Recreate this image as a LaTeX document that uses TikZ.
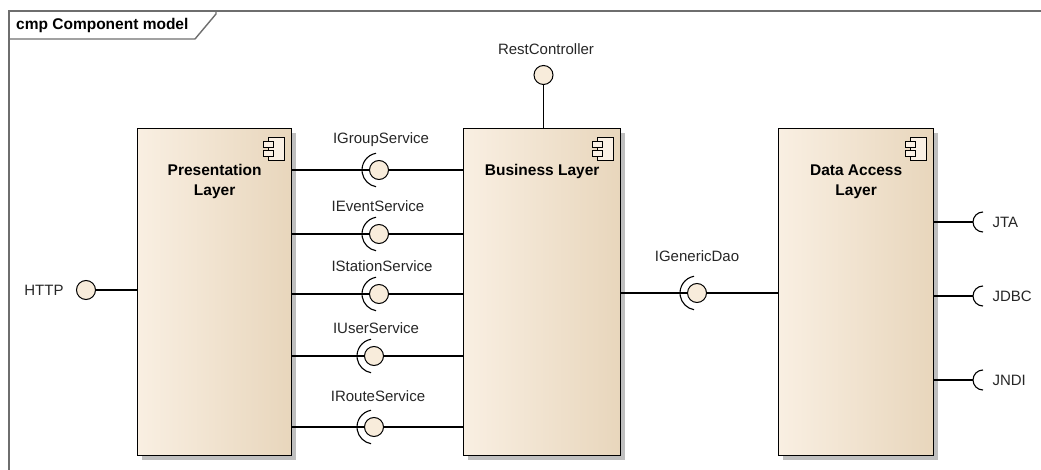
\documentclass[tikz,border=0pt]{standalone}
\usepackage{fontspec}
\setmainfont{Liberation Sans}
\usepackage{tikz}
\usetikzlibrary{positioning,shadows}
\definecolor{compL}{HTML}{F9EFE2}
\definecolor{compM}{HTML}{FAF0E4}
\definecolor{compR}{HTML}{E8D6BC}
\definecolor{ifacefill}{HTML}{F8ECDB}
\definecolor{framec}{HTML}{6E6E6E}
\tikzset{comp/.style={draw, line width=1.3pt, left color=compL, middle color=compM, right color=compR,
        drop shadow={shadow xshift=4.5pt, shadow yshift=-4.5pt, fill=black!25, opacity=1},
        minimum height=327pt, inner sep=0pt, anchor=north west},
    comptitle/.style={font=\bfseries\fontsize{15.5}{20}\selectfont, align=center},
    lolli/.style={circle, draw, fill=ifacefill, minimum size=19pt, inner sep=0pt, line width=1pt},
    ifname/.style={font=\fontsize{15}{18}\selectfont, text=black!85},
    wire/.style={line width=1.1pt},
    frame/.style={draw=framec, line width=1.4pt},
    compicon/.pic={
        \draw[line width=0.9pt, fill=compM] (-24,-9) rectangle (-8,-32);
        \draw[line width=0.9pt, fill=compM] (-29,-13) rectangle (-19,-19);
        \draw[line width=0.9pt, fill=compM] (-29,-22) rectangle (-19,-28);
    }}

\begin{document}
\begin{tikzpicture}[x=1pt,y=1pt]
\useasboundingbox (0,0) rectangle (1041,-470);
% frame and its tab
\draw[frame] (9,-470) -- (9,-11) -- (1041,-11);
\draw[frame] (9,-39) -- (195,-39) -- (216,-14) -- (216,-11);
\node[anchor=west, font=\bfseries\fontsize{15.5}{18}\selectfont, inner sep=0pt] (title) at (16,-25) {cmp Component model};

% components
\node[comp, minimum width=154pt] (pres) at (137,-128) {};
\node[comp, minimum width=157pt] (bus) at (463,-128) {};
\node[comp, minimum width=155pt] (data) at (778,-128) {};
\pic at (pres.north east) {compicon};
\pic at (bus.north east) {compicon};
\pic at (data.north east) {compicon};
\node[comptitle, below=33pt of pres.north] (presT) {Presentation\\Layer};
\node[comptitle, below=33pt of bus.north] (busT) {Business Layer};
\node[comptitle, below=33pt of data.north] (dataT) {Data Access\\Layer};

% provided interfaces
\node[lolli] (rest) at (543.5,-75) {};
\node[ifname] (restL) at (546,-49) {RestController};
\draw[wire] (rest) -- (bus.north -| rest);

\node[lolli] (http) at (86,-290) {};
\node[ifname] (httpL) at (44,-290) {HTTP};
\draw[wire] (http) -- (pres.west |- http);

% service interfaces
\node[lolli] (grp) at (379,-170) {};
\node[ifname] (grpL) at (381,-140) {IGroupService};
\draw[wire] (pres.east |- grp) -- (grp);
\draw[wire] (grp) -- (bus.west |- grp);
\draw[wire] (grp.center) ++(100:17pt) arc[start angle=100, end angle=260, radius=17pt];

\node[lolli] (evt) at (379,-234) {};
\node[ifname] (evtL) at (378,-206) {IEventService};
\draw[wire] (pres.east |- evt) -- (evt);
\draw[wire] (evt) -- (bus.west |- evt);
\draw[wire] (evt.center) ++(100:17pt) arc[start angle=100, end angle=260, radius=17pt];

\node[lolli] (sta) at (379,-294) {};
\node[ifname] (staL) at (382,-266) {IStationService};
\draw[wire] (pres.east |- sta) -- (sta);
\draw[wire] (sta) -- (bus.west |- sta);
\draw[wire] (sta.center) ++(100:17pt) arc[start angle=100, end angle=260, radius=17pt];

\node[lolli] (usr) at (374,-356) {};
\node[ifname] (usrL) at (376,-328) {IUserService};
\draw[wire] (pres.east |- usr) -- (usr);
\draw[wire] (usr) -- (bus.west |- usr);
\draw[wire] (usr.center) ++(100:17pt) arc[start angle=100, end angle=260, radius=17pt];

\node[lolli] (rte) at (374,-427) {};
\node[ifname] (rteL) at (378,-396) {IRouteService};
\draw[wire] (pres.east |- rte) -- (rte);
\draw[wire] (rte) -- (bus.west |- rte);
\draw[wire] (rte.center) ++(100:17pt) arc[start angle=100, end angle=260, radius=17pt];

% dao
\node[lolli] (dao) at (697,-293) {};
\node[ifname] (daoL) at (697,-256) {IGenericDao};
\draw[wire] (bus.east |- dao) -- (dao);
\draw[wire] (dao) -- (data.west |- dao);
\draw[wire] (dao.center) ++(100:17pt) arc[start angle=100, end angle=260, radius=17pt];

% required interfaces
\coordinate (jta) at (973,-222);
\coordinate (jdbc) at (973,-296);
\coordinate (jndi) at (973,-380);
\draw[wire] (data.east |- jta) -- (jta);
\draw[wire] (jta) ++(10pt,10pt) arc[start angle=90, end angle=270, radius=10pt];
\node[ifname, anchor=west] (jtaL) at (989,-222) {JTA};
\draw[wire] (data.east |- jdbc) -- (jdbc);
\draw[wire] (jdbc) ++(10pt,10pt) arc[start angle=90, end angle=270, radius=10pt];
\node[ifname, anchor=west] (jdbcL) at (989,-296) {JDBC};
\draw[wire] (data.east |- jndi) -- (jndi);
\draw[wire] (jndi) ++(10pt,10pt) arc[start angle=90, end angle=270, radius=10pt];
\node[ifname, anchor=west] (jndiL) at (989,-380) {JNDI};
\end{tikzpicture}
\end{document}
